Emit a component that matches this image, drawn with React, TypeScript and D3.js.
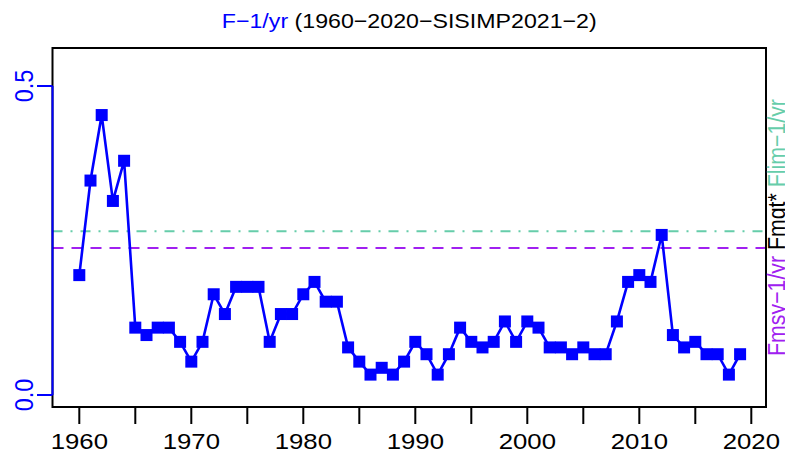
import React, { useRef, useEffect } from 'react';
import * as d3 from 'd3';

// yearly F values, 1960-2019
const years: number[] = d3.range(1960, 2020);
const fValues: number[] = [
  0.194, 0.347, 0.453, 0.314, 0.379, 0.109, 0.097, 0.109, 0.109, 0.086,
  0.054, 0.086, 0.163, 0.131, 0.175, 0.175, 0.175, 0.086, 0.131, 0.131,
  0.163, 0.183, 0.151, 0.151, 0.077, 0.054, 0.033, 0.044, 0.033, 0.054,
  0.086, 0.066, 0.033, 0.066, 0.109, 0.086, 0.077, 0.086, 0.119, 0.086,
  0.119, 0.109, 0.077, 0.077, 0.066, 0.077, 0.066, 0.066, 0.119, 0.183,
  0.194, 0.183, 0.259, 0.097, 0.077, 0.086, 0.066, 0.066, 0.033, 0.066,
];
const xTicks: number[] = [1960, 1965, 1970, 1975, 1980, 1985, 1990, 1995, 2000, 2005, 2010, 2015, 2020];
const xTickLabels: number[] = [1960, 1970, 1980, 1990, 2000, 2010, 2020];
const yTicks: number[] = [0, 0.5];
const refLines = [
  { name: 'Fmsy-1/yr', value: 0.238, color: '#A020F0', dash: '11,8' },
  { name: 'Flim-1/yr', value: 0.265, color: '#66CDAA', dash: '10,8,2,8' },
];

const W = 785;
const H = 454;
const box = { left: 52.5, right: 766, top: 48, bottom: 407 };
const SX = 1.12; // horizontal stretch of the text
const FONT = '"Liberation Sans", Arial, Helvetica, sans-serif';

const App: React.FC = () => {
  const svgRef = useRef<SVGSVGElement | null>(null);

  useEffect(() => {
    const svg = d3.select(svgRef.current);
    svg.selectAll('*').remove();

    const x = d3.scaleLinear().domain([1960, 2020]).range([79.3, 751.3]);
    const y = d3.scaleLinear().domain([0, 0.5]).range([395, 86]);

    // reference lines
    refLines.forEach(r => {
      svg.append('line')
        .attr('x1', box.left).attr('x2', box.right)
        .attr('y1', y(r.value)).attr('y2', y(r.value))
        .attr('stroke', r.color).attr('stroke-width', 2)
        .attr('stroke-dasharray', r.dash);
    });

    // series
    const data = years.map((yr, i) => ({ yr, v: fValues[i] }));
    const line = d3.line<{ yr: number; v: number }>().x(d => x(d.yr)).y(d => y(d.v));
    svg.append('path').datum(data)
      .attr('d', line)
      .attr('fill', 'none').attr('stroke', '#0000FF').attr('stroke-width', 2.6);
    svg.selectAll('.pt').data(data).enter().append('rect')
      .attr('x', d => x(d.yr) - 6).attr('y', d => y(d.v) - 6)
      .attr('width', 12).attr('height', 12).attr('fill', '#0000FF');

    // box
    svg.append('rect')
      .attr('x', box.left).attr('y', box.top)
      .attr('width', box.right - box.left).attr('height', box.bottom - box.top)
      .attr('fill', 'none').attr('stroke', '#000').attr('stroke-width', 2);

    // x axis
    const xa = svg.append('g');
    xa.selectAll('line').data(xTicks).enter().append('line')
      .attr('x1', d => x(d)).attr('x2', d => x(d))
      .attr('y1', box.bottom).attr('y2', 424)
      .attr('stroke', '#000').attr('stroke-width', 2);
    xa.selectAll('text').data(xTickLabels).enter().append('text')
      .attr('transform', d => `translate(${x(d)},449) scale(${SX},1)`)
      .attr('text-anchor', 'middle')
      .attr('font-family', FONT).attr('font-size', 23)
      .attr('fill', '#000')
      .text(d => String(d));

    // y axis
    const ya = svg.append('g');
    ya.append('line')
      .attr('x1', box.left).attr('x2', box.left)
      .attr('y1', y(0)).attr('y2', y(0.5))
      .attr('stroke', '#0000FF').attr('stroke-width', 2);
    ya.selectAll('.tk').data(yTicks).enter().append('line')
      .attr('x1', 37).attr('x2', box.left)
      .attr('y1', d => y(d)).attr('y2', d => y(d))
      .attr('stroke', '#0000FF').attr('stroke-width', 2);
    ya.selectAll('text').data(yTicks).enter().append('text')
      .attr('transform', d => `translate(33,${y(d)}) scale(${SX},1) rotate(-90)`)
      .attr('text-anchor', 'middle')
      .attr('font-family', FONT).attr('font-size', 23.5)
      .attr('fill', '#0000FF')
      .text(d => d.toFixed(1));

    // right margin labels
    const rt = svg.append('text')
      .attr('transform', `translate(785,${(box.top + box.bottom) / 2}) scale(${SX},1) rotate(-90)`)
      .attr('text-anchor', 'middle')
      .attr('font-family', FONT).attr('font-size', 21.3);
    rt.append('tspan').attr('fill', '#A020F0').text('Fmsy\u22121/yr');
    rt.append('tspan').attr('fill', '#000').text(' Fmgt* ');
    rt.append('tspan').attr('fill', '#66CDAA').text('Flim\u22121/yr');

    // title
    const t = svg.append('text')
      .attr('transform', `translate(${(box.left + box.right) / 2},28) scale(${SX},1)`)
      .attr('text-anchor', 'middle')
      .attr('font-family', FONT).attr('font-size', 20.7);
    t.append('tspan').attr('fill', '#0000FF').text('F\u22121/yr');
    t.append('tspan').attr('fill', '#000').text(' (1960\u22122020\u2212SISIMP2021\u22122)');
  }, []);

  return (
    <svg
      ref={svgRef}
      width={W}
      height={H}
      style={{ position: 'absolute', left: 0, top: 0, background: '#fff' }}
    />
  );
};

export default App;
